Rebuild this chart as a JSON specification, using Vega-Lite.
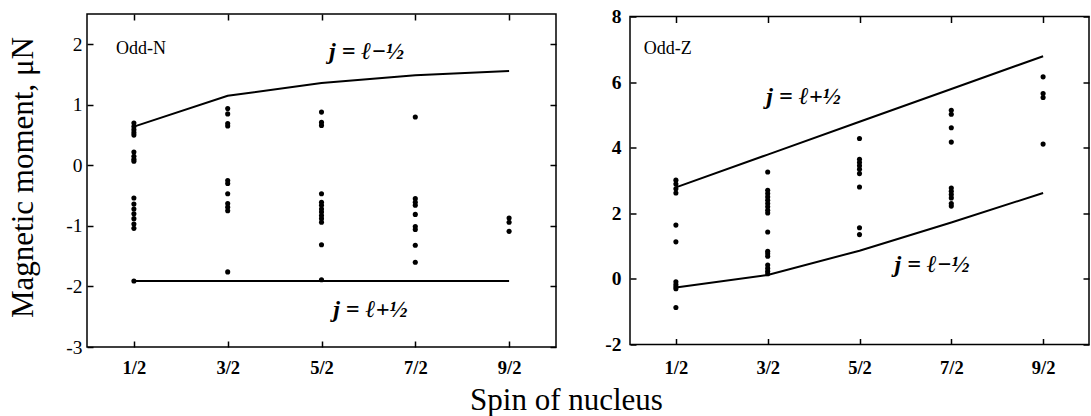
{
  "$schema": "https://vega.github.io/schema/vega-lite/v6.json",
  "background": "white",
  "padding": {"left": 6, "top": 5, "right": 0, "bottom": 0},
  "autosize": {"type": "pad"},
  "bounds": "flush",
  "center": true,
  "spacing": 74,
  "datasets": {
    "oddN": [
      {"spin": 0.5, "mu": 0.70}, {"spin": 0.5, "mu": 0.64}, {"spin": 0.5, "mu": 0.59}, {"spin": 0.5, "mu": 0.54}, {"spin": 0.5, "mu": 0.50},
      {"spin": 0.5, "mu": 0.22}, {"spin": 0.5, "mu": 0.15}, {"spin": 0.5, "mu": 0.10}, {"spin": 0.5, "mu": 0.07},
      {"spin": 0.5, "mu": -0.54}, {"spin": 0.5, "mu": -0.64}, {"spin": 0.5, "mu": -0.72}, {"spin": 0.5, "mu": -0.80},
      {"spin": 0.5, "mu": -0.88}, {"spin": 0.5, "mu": -0.97}, {"spin": 0.5, "mu": -1.04}, {"spin": 0.5, "mu": -1.91},
      {"spin": 1.5, "mu": 0.94}, {"spin": 1.5, "mu": 0.85}, {"spin": 1.5, "mu": 0.69}, {"spin": 1.5, "mu": 0.65},
      {"spin": 1.5, "mu": -0.25}, {"spin": 1.5, "mu": -0.30}, {"spin": 1.5, "mu": -0.47}, {"spin": 1.5, "mu": -0.63},
      {"spin": 1.5, "mu": -0.69}, {"spin": 1.5, "mu": -0.75}, {"spin": 1.5, "mu": -1.76},
      {"spin": 2.5, "mu": 0.88}, {"spin": 2.5, "mu": 0.71}, {"spin": 2.5, "mu": 0.66}, {"spin": 2.5, "mu": -0.47},
      {"spin": 2.5, "mu": -0.61}, {"spin": 2.5, "mu": -0.66}, {"spin": 2.5, "mu": -0.72}, {"spin": 2.5, "mu": -0.77},
      {"spin": 2.5, "mu": -0.83}, {"spin": 2.5, "mu": -0.88}, {"spin": 2.5, "mu": -0.94}, {"spin": 2.5, "mu": -1.31},
      {"spin": 2.5, "mu": -1.89},
      {"spin": 3.5, "mu": 0.80}, {"spin": 3.5, "mu": -0.55}, {"spin": 3.5, "mu": -0.61}, {"spin": 3.5, "mu": -0.66},
      {"spin": 3.5, "mu": -0.81}, {"spin": 3.5, "mu": -1.01}, {"spin": 3.5, "mu": -1.06}, {"spin": 3.5, "mu": -1.32},
      {"spin": 3.5, "mu": -1.60},
      {"spin": 4.5, "mu": -0.87}, {"spin": 4.5, "mu": -0.94}, {"spin": 4.5, "mu": -1.09}
    ],
    "oddZ": [
      {"spin": 0.5, "mu": 3.01}, {"spin": 0.5, "mu": 2.89}, {"spin": 0.5, "mu": 2.75}, {"spin": 0.5, "mu": 2.62},
      {"spin": 0.5, "mu": 1.64}, {"spin": 0.5, "mu": 1.13}, {"spin": 0.5, "mu": -0.09}, {"spin": 0.5, "mu": -0.17},
      {"spin": 0.5, "mu": -0.24}, {"spin": 0.5, "mu": -0.30}, {"spin": 0.5, "mu": -0.87},
      {"spin": 1.5, "mu": 3.26}, {"spin": 1.5, "mu": 2.70}, {"spin": 1.5, "mu": 2.60}, {"spin": 1.5, "mu": 2.50},
      {"spin": 1.5, "mu": 2.40}, {"spin": 1.5, "mu": 2.30}, {"spin": 1.5, "mu": 2.20}, {"spin": 1.5, "mu": 2.09},
      {"spin": 1.5, "mu": 2.01}, {"spin": 1.5, "mu": 1.43}, {"spin": 1.5, "mu": 0.84}, {"spin": 1.5, "mu": 0.77},
      {"spin": 1.5, "mu": 0.69}, {"spin": 1.5, "mu": 0.42}, {"spin": 1.5, "mu": 0.32}, {"spin": 1.5, "mu": 0.23},
      {"spin": 1.5, "mu": 0.16},
      {"spin": 2.5, "mu": 4.28}, {"spin": 2.5, "mu": 3.65}, {"spin": 2.5, "mu": 3.55}, {"spin": 2.5, "mu": 3.45},
      {"spin": 2.5, "mu": 3.34}, {"spin": 2.5, "mu": 3.21}, {"spin": 2.5, "mu": 2.80}, {"spin": 2.5, "mu": 1.56},
      {"spin": 2.5, "mu": 1.35},
      {"spin": 3.5, "mu": 5.14}, {"spin": 3.5, "mu": 5.02}, {"spin": 3.5, "mu": 4.61}, {"spin": 3.5, "mu": 4.17},
      {"spin": 3.5, "mu": 2.77}, {"spin": 3.5, "mu": 2.67}, {"spin": 3.5, "mu": 2.57}, {"spin": 3.5, "mu": 2.47},
      {"spin": 3.5, "mu": 2.30}, {"spin": 3.5, "mu": 2.22},
      {"spin": 4.5, "mu": 6.16}, {"spin": 4.5, "mu": 5.65}, {"spin": 4.5, "mu": 5.53}, {"spin": 4.5, "mu": 4.11}
    ],
    "schmidtN": [
      {"spin": 0.5, "mu": 0.64, "branch": "minus"}, {"spin": 1.5, "mu": 1.15, "branch": "minus"},
      {"spin": 2.5, "mu": 1.36, "branch": "minus"}, {"spin": 3.5, "mu": 1.49, "branch": "minus"},
      {"spin": 4.5, "mu": 1.56, "branch": "minus"},
      {"spin": 0.5, "mu": -1.91, "branch": "plus"}, {"spin": 1.5, "mu": -1.91, "branch": "plus"},
      {"spin": 2.5, "mu": -1.91, "branch": "plus"}, {"spin": 3.5, "mu": -1.91, "branch": "plus"},
      {"spin": 4.5, "mu": -1.91, "branch": "plus"}
    ],
    "schmidtZ": [
      {"spin": 0.5, "mu": 2.79, "branch": "plus"}, {"spin": 1.5, "mu": 3.79, "branch": "plus"},
      {"spin": 2.5, "mu": 4.79, "branch": "plus"}, {"spin": 3.5, "mu": 5.79, "branch": "plus"},
      {"spin": 4.5, "mu": 6.79, "branch": "plus"},
      {"spin": 0.5, "mu": -0.26, "branch": "minus"}, {"spin": 1.5, "mu": 0.12, "branch": "minus"},
      {"spin": 2.5, "mu": 0.86, "branch": "minus"}, {"spin": 3.5, "mu": 1.72, "branch": "minus"},
      {"spin": 4.5, "mu": 2.62, "branch": "minus"}
    ],
    "labelsN": [
      {"spin": 2.98, "mu": 1.87, "text": "j = ℓ−½"},
      {"spin": 3.02, "mu": -2.39, "text": "j = ℓ+½"}
    ],
    "tagN": [{"spin": 0.31, "mu": 1.93, "text": "Odd-N"}],
    "labelsZ": [
      {"spin": 1.89, "mu": 5.55, "text": "j = ℓ+½"},
      {"spin": 3.29, "mu": 0.43, "text": "j = ℓ−½"}
    ],
    "tagZ": [{"spin": 0.15, "mu": 7.0, "text": "Odd-Z"}]
  },
  "hconcat": [
    {
      "width": 469,
      "height": 333,
      "resolve": {"axis": {"x": "independent", "y": "independent"}},
      "layer": [
        {
          "data": {"name": "oddN"},
          "mark": {"type": "circle", "size": 26, "color": "black", "opacity": 1},
          "encoding": {
            "x": {"field": "spin", "type": "quantitative",
              "scale": {"domain": [0, 5], "nice": false, "zero": false},
              "axis": {"orient": "bottom", "values": [0.5, 1.5, 2.5, 3.5, 4.5],
                "labelExpr": "(datum.value*2) + '/2'", "tickSize": -6, "labelPadding": 17,
                "labelFont": "Liberation Serif", "labelFontSize": 18.5, "labelFontWeight": "bold",
                "title": "Spin of nucleus", "titleFont": "Liberation Serif", "titleFontSize": 31, "titleFontWeight": "normal",
                "titleX": 479, "titleY": 62, "titleBaseline": "alphabetic", "titleAlign": "center"}},
            "y": {"field": "mu", "type": "quantitative",
              "scale": {"domain": [-3, 2.5], "nice": false, "zero": false},
              "axis": {"orient": "left", "values": [-3, -2, -1, 0, 1, 2],
                "labelExpr": "datum.value < 0 ? '-' + abs(datum.value) : '' + datum.value",
                "tickSize": -6, "labelPadding": 11, "labelFont": "Liberation Serif", "labelFontSize": 19.5,
                "title": "Magnetic moment, μN", "titleFont": "Liberation Serif", "titleFontSize": 31, "titleFontWeight": "normal",
                "titleX": -64, "titleY": 163, "titleBaseline": "middle", "titleAngle": -90, "titleAlign": "center"}}
          }
        },
        {
          "data": {"name": "schmidtN"},
          "mark": {"type": "line", "color": "black", "strokeWidth": 2},
          "encoding": {
            "x": {"field": "spin", "type": "quantitative",
              "axis": {"orient": "top", "values": [0.5, 1.5, 2.5, 3.5, 4.5], "labels": false, "tickSize": -6, "title": null}},
            "y": {"field": "mu", "type": "quantitative",
              "axis": {"orient": "right", "values": [-3, -2, -1, 0, 1, 2], "labels": false, "tickSize": -6, "title": null}},
            "detail": {"field": "branch"}
          }
        },
        {
          "data": {"name": "labelsN"},
          "mark": {"type": "text", "font": "Liberation Serif", "fontSize": 24, "fontStyle": "italic", "fontWeight": "bold", "color": "black", "align": "center", "baseline": "middle"},
          "encoding": {
            "x": {"field": "spin", "type": "quantitative", "axis": null},
            "y": {"field": "mu", "type": "quantitative", "axis": null},
            "text": {"field": "text"}
          }
        },
        {
          "data": {"name": "tagN"},
          "mark": {"type": "text", "font": "Liberation Serif", "fontSize": 18, "color": "black", "align": "left", "baseline": "middle"},
          "encoding": {
            "x": {"field": "spin", "type": "quantitative", "axis": null},
            "y": {"field": "mu", "type": "quantitative", "axis": null},
            "text": {"field": "text"}
          }
        }
      ]
    },
    {
      "width": 459,
      "height": 328,
      "resolve": {"axis": {"x": "independent", "y": "independent"}},
      "layer": [
        {
          "data": {"name": "oddZ"},
          "mark": {"type": "circle", "size": 26, "color": "black", "opacity": 1},
          "encoding": {
            "x": {"field": "spin", "type": "quantitative",
              "scale": {"domain": [0, 5], "nice": false, "zero": false},
              "axis": {"orient": "bottom", "values": [0.5, 1.5, 2.5, 3.5, 4.5],
                "labelExpr": "(datum.value*2) + '/2'", "tickSize": -6, "labelPadding": 20,
                "labelFont": "Liberation Serif", "labelFontSize": 18.5, "labelFontWeight": "bold", "title": null}},
            "y": {"field": "mu", "type": "quantitative",
              "scale": {"domain": [-2, 8], "nice": false, "zero": false},
              "axis": {"orient": "left", "values": [-2, 0, 2, 4, 6, 8],
                "labelExpr": "datum.value < 0 ? '-' + abs(datum.value) : '' + datum.value",
                "tickSize": -6, "labelPadding": 15, "labelFont": "Liberation Serif", "labelFontSize": 19.5, "labelFontWeight": "bold", "title": null}}
          }
        },
        {
          "data": {"name": "schmidtZ"},
          "mark": {"type": "line", "color": "black", "strokeWidth": 2},
          "encoding": {
            "x": {"field": "spin", "type": "quantitative",
              "axis": {"orient": "top", "values": [0.5, 1.5, 2.5, 3.5, 4.5], "labels": false, "tickSize": -6, "title": null}},
            "y": {"field": "mu", "type": "quantitative",
              "axis": {"orient": "right", "values": [-2, 0, 2, 4, 6, 8], "labels": false, "tickSize": -6, "title": null}},
            "detail": {"field": "branch"}
          }
        },
        {
          "data": {"name": "labelsZ"},
          "mark": {"type": "text", "font": "Liberation Serif", "fontSize": 24, "fontStyle": "italic", "fontWeight": "bold", "color": "black", "align": "center", "baseline": "middle"},
          "encoding": {
            "x": {"field": "spin", "type": "quantitative", "axis": null},
            "y": {"field": "mu", "type": "quantitative", "axis": null},
            "text": {"field": "text"}
          }
        },
        {
          "data": {"name": "tagZ"},
          "mark": {"type": "text", "font": "Liberation Serif", "fontSize": 18, "color": "black", "align": "left", "baseline": "middle"},
          "encoding": {
            "x": {"field": "spin", "type": "quantitative", "axis": null},
            "y": {"field": "mu", "type": "quantitative", "axis": null},
            "text": {"field": "text"}
          }
        }
      ]
    }
  ],
  "config": {
    "view": {"stroke": "black", "strokeWidth": 1.5},
    "axis": {
      "grid": false, "domain": false,
      "tickColor": "black", "tickWidth": 1.5,
      "labelColor": "black", "titleColor": "black",
      "labelFont": "Liberation Serif", "titleFont": "Liberation Serif"
    }
  }
}
